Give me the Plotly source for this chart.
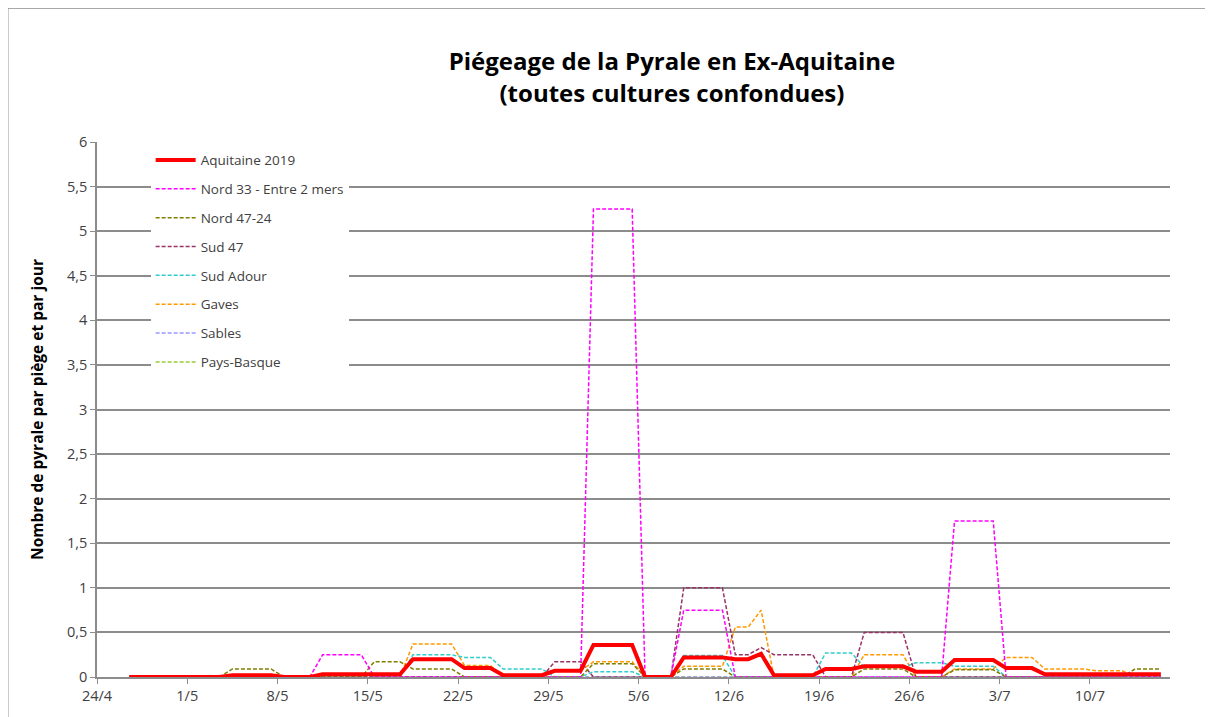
import pandas as pd
import plotly.graph_objects as go

# Daily readings, 26/4/2019 .. 15/7/2019 (81 days)
first_day = "2019-04-26"
last_day = "2019-07-15"

series_names = ["Aquitaine 2019", "Nord 33 - Entre 2 mers", "Nord 47-24", "Sud 47",
                "Sud Adour", "Gaves", "Sables", "Pays-Basque"]

# day index 0 = 26/4
aquitaine_2019 = ([0]*8 + [0.02]*4 + [0]*3 + [0.03]*7 + [0.2]*4 + [0.1]*3 + [0.02]*4 +
                  [0.07]*3 + [0.36]*4 + [0]*3 + [0.22]*4 + [0.2]*2 + [0.26] + [0.02]*4 +
                  [0.09]*3 + [0.12]*4 + [0.06]*3 + [0.19]*4 + [0.1]*3 + [0.03]*10)
nord_33 = ([0]*15 + [0.25]*4 + [0]*17 + [5.25]*4 + [0]*3 + [0.75]*4 + [0]*17 +
           [1.75]*4 + [0]*13)
nord_47_24 = ([0]*8 + [0.09]*4 + [0]*7 + [0.17]*3 + [0.09]*4 + [0]*10 + [0.15]*4 +
              [0]*3 + [0.09]*4 + [0]*10 + [0.09]*4 + [0]*3 + [0.08]*4 + [0]*10 + [0.09]*3)
sud_47 = ([0]*33 + [0.17]*3 + [0]*7 + [1.0]*4 + [0.25]*2 + [0.33] + [0.25]*4 + [0]*3 +
          [0.5]*4 + [0]*20)
sud_adour = ([0]*22 + [0.25]*4 + [0.22]*3 + [0.09]*4 + [0]*3 + [0.06]*4 + [0]*3 +
             [0.24]*4 + [0]*7 + [0.27]*3 + [0.11]*4 + [0.16]*3 + [0.12]*4 + [0]*13)
gaves = ([0]*22 + [0.37]*4 + [0.13]*3 + [0]*4 + [0.07]*3 + [0.17]*4 + [0]*3 +
         [0.12]*4 + [0.56]*2 + [0.75] + [0]*7 + [0.25]*4 + [0]*3 + [0.09]*4 +
         [0.22]*3 + [0.09]*4 + [0.07]*3 + [0]*3)
sables = [0]*81
pays_basque = [0]*81

y_ticks = [0, 0.5, 1, 1.5, 2, 2.5, 3, 3.5, 4, 4.5, 5, 5.5, 6]

dates = pd.date_range(first_day, last_day, freq="D") + pd.Timedelta(hours=12)

values = [aquitaine_2019, nord_33, nord_47_24, sud_47, sud_adour, gaves, sables, pays_basque]
colors = ["#FF0000", "#FF00FF", "#7F7F00", "#993366", "#33CCCC", "#FF9900", "#9999FF", "#99CC33"]

fig = go.Figure()
for i, (name, vals, col) in enumerate(zip(series_names, values, colors)):
    fig.add_trace(go.Scatter(
        x=dates, y=vals, name=name, mode="lines", legendgroup=name,
        legendrank=i,
        line=dict(color=col, width=4 if i == 0 else 1.5, dash="solid" if i == 0 else "4px,2px"),
    ))
# draw red on top
fig.data = fig.data[1:][::-1] + fig.data[:1]

grid = "#8C8C8C"
fig.update_layout(
    width=1205, height=709,
    margin=dict(l=89, r=43, t=134, b=40),
    paper_bgcolor="white", plot_bgcolor="white",
    separators=", ",
    font=dict(family="Open Sans, Noto Sans, sans-serif", color="#404040", size=13),
    title=dict(
        text="<b>Piégeage de la Pyrale en Ex-Aquitaine<br>(toutes cultures confondues)</b>",
        x=0.551, xanchor="center", y=0.912, yanchor="top",
        font=dict(family="Open Sans, sans-serif", size=24, color="black"),
    ),
    showlegend=True,
    legend=dict(
        x=0.05, y=0.995, xanchor="left", yanchor="top",
        bgcolor="white", borderwidth=0, traceorder="grouped", tracegroupgap=8.3,
        itemwidth=40, font=dict(size=13.5, color="#404040"),
    ),
    xaxis=dict(
        type="date",
        range=["2019-04-24", "2019-07-16 05:00"],
        tick0="2019-04-24", dtick=7 * 86400000, tickformat="%-d/%-m",
        showgrid=False, showline=True, linecolor=grid, linewidth=1.5,
        ticks="outside", ticklen=5, tickcolor=grid, tickfont=dict(size=14.5, color="#404040"),
        zeroline=False,
    ),
    yaxis=dict(
        range=[0, 6], tickvals=y_ticks, tickformat=".1~f",
        showgrid=True, gridcolor=grid, gridwidth=1.5,
        showline=True, linecolor=grid, linewidth=1.5,
        ticks="outside", ticklen=5, tickcolor=grid, tickfont=dict(size=14.5, color="#404040"),
        zeroline=False,
        title=dict(text="<b>Nombre de pyrale par piège et par jour</b>",
                   font=dict(size=15.5, color="black"), standoff=20),
    ),
    shapes=[dict(type="rect", xref="paper", yref="paper", x0=-0.083, x1=1.5, y0=-0.5, y1=1.25,
                 line=dict(color="#8C8C8C", width=1), fillcolor="rgba(0,0,0,0)", layer="below")],
)

fig.write_html("out.html")
